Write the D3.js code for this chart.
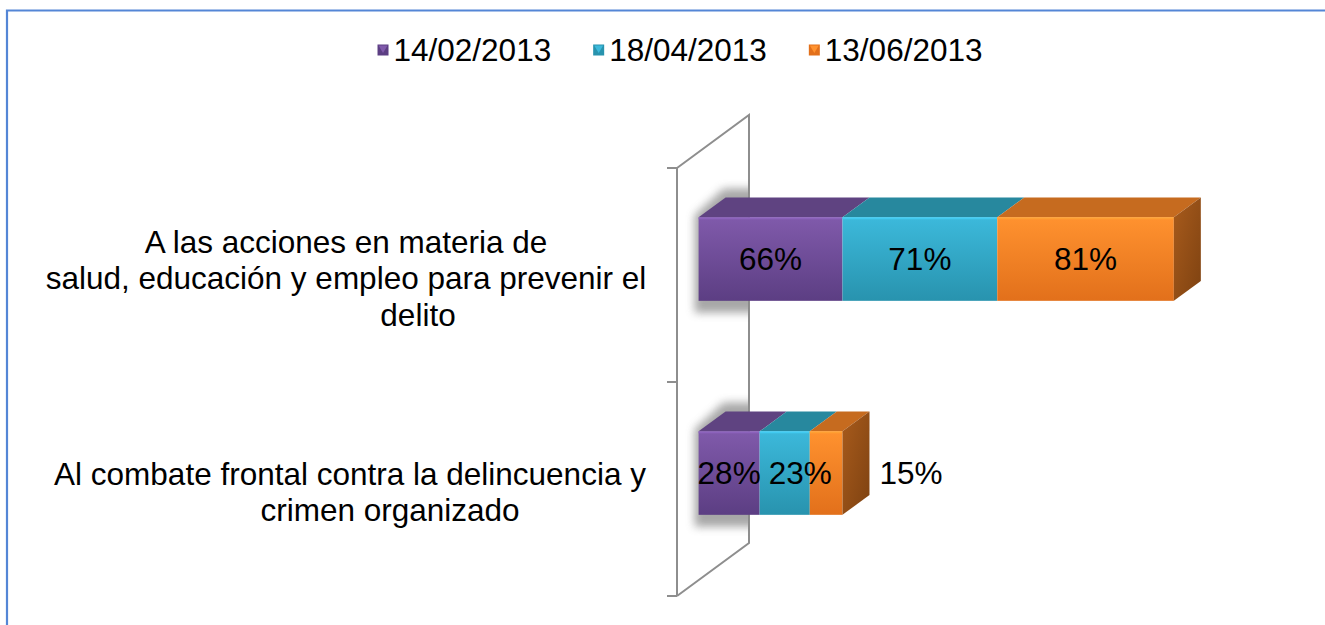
<!DOCTYPE html>
<html>
<head>
<meta charset="utf-8">
<script src="https://d3js.org/d3.v7.min.js"></script>
<style>
  body { margin: 0; background: #fff; font-family: "Liberation Sans", Arial, sans-serif; }
  svg { display: block; }
</style>
</head>
<body>
<div id="chart"></div>
<script>
// data
const categories = [
  ["A las acciones en materia de", "salud, educación y empleo para prevenir el", "delito"],
  ["Al combate frontal contra la delincuencia y", "crimen organizado"]
];
const seriesNames = ["14/02/2013", "18/04/2013", "13/06/2013"];
const values = [
  [66, 28],   // 14/02/2013
  [71, 23],   // 18/04/2013
  [81, 15]    // 13/06/2013
];

const W = 1325, H = 625;
const fontSize = 31.5;

// colours: [front top, front bottom, top face, side top, side bottom]
const colours = [
  ["#805aab", "#5c3e83", "#5f4381", "#553a76", "#3f2a58"],
  ["#3cb9db", "#2893ae", "#27889e", "#22788e", "#1a5f70"],
  ["#ff922f", "#e2701b", "#c66b1f", "#a85b1c", "#7e4211"]
];

const svg = d3.select("#chart").append("svg")
  .attr("width", W).attr("height", H);

const defs = svg.append("defs");
colours.forEach((c, i) => {
  const g = defs.append("linearGradient").attr("id", "front" + i)
    .attr("x1", 0).attr("y1", 0).attr("x2", 0).attr("y2", 1);
  g.append("stop").attr("offset", "0%").attr("stop-color", c[0]);
  g.append("stop").attr("offset", "100%").attr("stop-color", c[1]);
  const s = defs.append("linearGradient").attr("id", "side" + i)
    .attr("x1", 0).attr("y1", 0).attr("x2", 1).attr("y2", 1);
  s.append("stop").attr("offset", "0%").attr("stop-color", c[3]);
  s.append("stop").attr("offset", "100%").attr("stop-color", c[4]);
});
defs.append("filter").attr("id", "blur")
  .attr("x", "-50%").attr("y", "-50%").attr("width", "200%").attr("height", "200%")
  .append("feGaussianBlur").attr("stdDeviation", 4);

// outer frame (blue line top and left)
svg.append("path")
  .attr("d", `M7,${H} L7,10.5 L${W},10.5`)
  .attr("fill", "none").attr("stroke", "#5486d6").attr("stroke-width", 2.2);

// scales
const x = d3.scaleLinear().domain([0, 100]).range([677, 895]);
const catKeys = categories.map((c, i) => i);
const y = d3.scaleBand().domain(catKeys).range([168, 596])
  .paddingInner(0.61).paddingOuter(0.305);

// oblique depth of the plot (wall) and of the bars
const depth = { dx: 72, dy: -53 };
const front = 0.3, barDepth = 0.375;
const fdx = depth.dx * front, fdy = depth.dy * front;
const bdx = depth.dx * barDepth, bdy = depth.dy * barDepth;

// back wall at value 0
const x0 = x(0), yTop = y.range()[0], yBot = y.range()[1];
const wallPts = [[x0, yTop], [x0 + depth.dx, yTop + depth.dy], [x0 + depth.dx, yBot + depth.dy], [x0, yBot]];
defs.append("clipPath").attr("id", "wallClip")
  .append("polygon").attr("points", wallPts.map(p => p.join(",")).join(" "));

const wall = svg.append("g").attr("stroke", "#8e8e8e").attr("stroke-width", 2).attr("fill", "none");
wall.append("path").attr("d", "M" + wallPts.map(p => p.join(",")).join("L"));
wall.append("path").attr("d", `M${x0},${yTop}L${x0},${yBot}`);
// ticks between categories
const tickYs = [yTop, y(1) - y.step() * y.paddingInner() / 2, yBot];
tickYs.forEach(t => wall.append("line")
  .attr("x1", x0 - 10).attr("x2", x0).attr("y1", t).attr("y2", t));

// stacked bars
const stacks = catKeys.map(ci => {
  let acc = 0;
  return values.map((ser, si) => {
    const seg = { ci, si, v: ser[ci], start: acc, end: acc + ser[ci] };
    acc += ser[ci];
    return seg;
  });
});

const bars = svg.append("g");
const labels = svg.append("g");
stacks.forEach((segs, ci) => {
  const yT = y(ci) + fdy, yB = yT + y.bandwidth();
  const xL = x(0) + fdx;
  const xR = x(segs[segs.length - 1].end) + fdx;

  // soft shadow on the wall
  bars.append("g").attr("clip-path", "url(#wallClip)")
    .append("polygon")
    .attr("points", [
      [xL - 4, yB + 12], [xL - 4, yT - 2], [xL + bdx - 2, yT + bdy - 9],
      [xL + bdx + 60, yT + bdy - 9], [xL + 60, yB + 12]
    ].map(p => p.join(",")).join(" "))
    .attr("fill", "#8a8a8a").attr("opacity", 0.75).attr("filter", "url(#blur)");

  segs.forEach(s => {
    const a = x(s.start) + fdx, b = x(s.end) + fdx;
    // top face
    bars.append("polygon")
      .attr("points", [[a, yT], [b, yT], [b + bdx, yT + bdy], [a + bdx, yT + bdy]].map(p => p.join(",")).join(" "))
      .attr("fill", colours[s.si][2]);
    // front face
    bars.append("rect")
      .attr("x", a).attr("y", yT).attr("width", b - a).attr("height", yB - yT)
      .attr("fill", `url(#front${s.si})`);
    bars.append("line")
      .attr("x1", a).attr("x2", b).attr("y1", yT + 1).attr("y2", yT + 1)
      .attr("stroke-width", 2).attr("opacity", 0.9)
      .attr("stroke", d3.color(colours[s.si][0]).brighter(0.3));
  });
  // right side face of the last segment
  const last = segs[segs.length - 1];
  bars.append("polygon")
    .attr("points", [[xR, yT], [xR + bdx, yT + bdy], [xR + bdx, yB + bdy], [xR, yB]].map(p => p.join(",")).join(" "))
    .attr("fill", `url(#side${last.si})`);

  // data labels, nudged right when they would collide with the previous one
  let prevRight = -Infinity;
  segs.forEach((s, k) => {
    const a = x(s.start) + fdx, b = x(s.end) + fdx;
    const outside = k === segs.length - 1 && s.v < 20;
    const t = labels.append("text")
      .attr("y", (yT + yB) / 2)
      .attr("text-anchor", "start")
      .attr("dominant-baseline", "central")
      .attr("font-size", fontSize)
      .attr("fill", "#000")
      .text(s.v + "%");
    const w = t.node().getComputedTextLength();
    let left = outside ? xR + bdx + 10 : (a + b) / 2 - w / 2;
    if (left < prevRight + 8) left = prevRight + 8;
    t.attr("x", left);
    prevRight = left + w;
  });
});

// category labels (left of the wall)
const lineH = 36.5;
const lineCx = [[346, 346, 418], [350, 390]];
categories.forEach((lines, ci) => {
  const cy = y(ci) + y.bandwidth() / 2 + 3;
  lines.forEach((ln, li) => {
    svg.append("text")
      .attr("x", lineCx[ci][li])
      .attr("y", cy + (li - (lines.length - 1) / 2) * lineH)
      .attr("text-anchor", "middle")
      .attr("dominant-baseline", "central")
      .attr("font-size", fontSize)
      .attr("fill", "#000")
      .text(ln);
  });
});

// legend
const legend = svg.append("g");
const items = seriesNames.map((n, i) => {
  const g = legend.append("g");
  g.append("rect").attr("x", 0).attr("y", -5.5).attr("width", 11).attr("height", 11)
    .attr("fill", colours[i][1]);
  g.append("polygon").attr("points", "1,-4.5 10,-4.5 5.5,3")
    .attr("fill", colours[i][0]);
  const t = g.append("text").attr("x", 16).attr("y", 0)
    .attr("dominant-baseline", "central")
    .attr("font-size", fontSize).attr("fill", "#000").text(n);
  return { g, w: 16 + t.node().getComputedTextLength() };
});
const gap = 42;
const total = d3.sum(items, d => d.w) + gap * (items.length - 1);
let lx = 680 - total / 2;
items.forEach(it => {
  it.g.attr("transform", `translate(${lx},50)`);
  lx += it.w + gap;
});
</script>
</body>
</html>
